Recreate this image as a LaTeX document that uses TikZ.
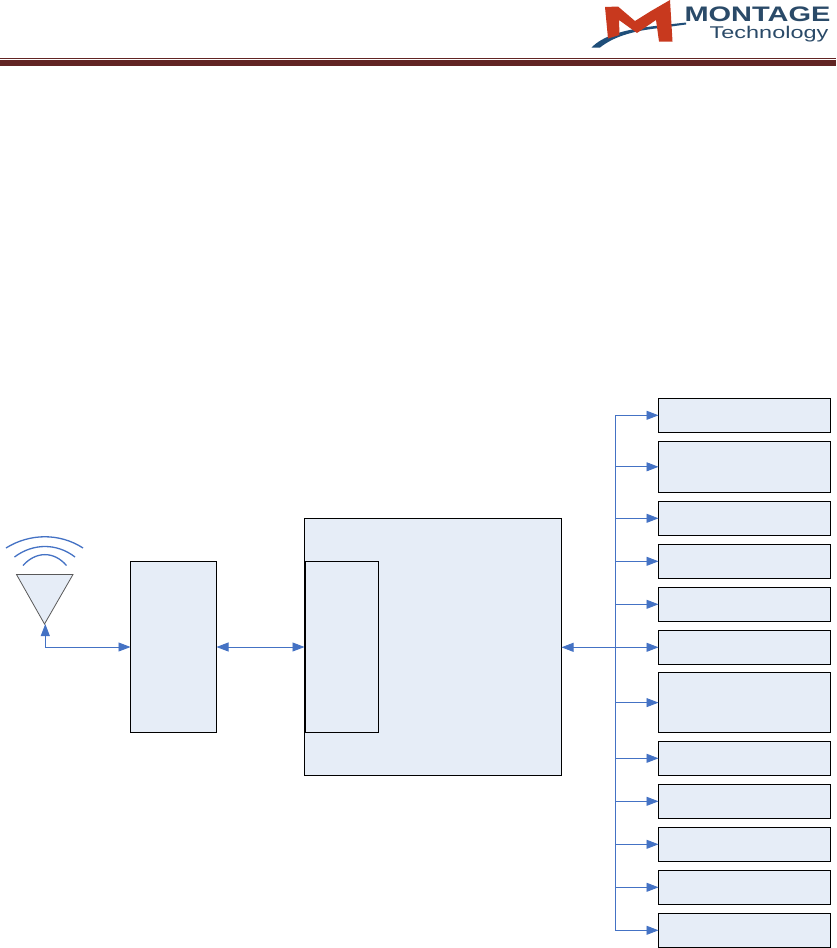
\documentclass[tikz,border=0pt]{standalone}
\usepackage{fontspec}
\setmainfont{Liberation Sans}
\usetikzlibrary{arrows.meta}
\definecolor{boxfill}{HTML}{E6EDF7}
\definecolor{wire}{HTML}{4472C4}
\definecolor{rulec}{HTML}{622423}
\definecolor{logored}{HTML}{C8391E}
\definecolor{logoblue}{HTML}{1F4E79}
\definecolor{logotext}{HTML}{2A4A68}
\tikzset{
  x=1pt,y=-1pt,
  blockbox/.style={draw=black,fill=boxfill,line width=0.9pt,inner sep=0pt,minimum width=0pt},
  wireline/.style={draw=wire,line width=0.9pt},
  oneway/.style={wireline,-{Triangle[length=12pt,width=9pt]}},
  twoway/.style={wireline,{Triangle[length=12pt,width=9pt]}-{Triangle[length=12pt,width=9pt]}},
  wave/.style={draw=wire,line width=1.3pt}
}
\newcommand{\pxbox}[5]{\path[blockbox] (#2,#3) rectangle (#4,#5) node[pos=.5,inner sep=0pt] (#1) {};
  \coordinate (#1-w) at (#2,{(#3+#5)/2});
  \coordinate (#1-e) at (#4,{(#3+#5)/2});}
\begin{document}
\begin{tikzpicture}
\useasboundingbox (0,0) rectangle (836,948);
% header rules
\fill[rulec] (0,57.6) rectangle (836,58.7);
\fill[rulec] (0,60) rectangle (836,66);
% logo
\fill[logoblue] (591.5,47.5) .. controls (602,37) and (620,30) .. (655,26) -- (686,22.5) -- (686,24.5) -- (660,28) .. controls (630,31) and (612,38) .. (600,47.5) -- cycle;
\fill[logored] (605,7) -- (618,6.5) -- (635,21) -- (651,11) -- (670,0) -- (672.5,41.5) -- (659,41.5) -- (656,20) -- (637,33) -- (619,20) -- (619.5,35) -- (608,38.5) -- cycle;
\node[logotext,font=\bfseries\fontsize{21}{21}\selectfont,anchor=center,inner sep=0pt,xscale=1.38,transform shape] (brand) at (757.5,14.5) {MONTAGE};
\node[logotext,font=\fontsize{17}{17}\selectfont,anchor=center,inner sep=0pt,xscale=1.38,transform shape] (brandsub) at (769,34) {Technology};
% antenna
\path[draw=black!65,fill=boxfill,line width=0.8pt] (16.5,574.5) -- (73,574.5) -- (44.5,624) -- cycle;
\coordinate (ant) at (45.3,624);
\draw[wave] (6,548) .. controls (30,533) and (60,533) .. (83,548);
\draw[wave] (14.5,557) .. controls (33,543) and (57,543) .. (75,557);
\draw[wave] (23,565.5) .. controls (36,551) and (54,551) .. (66.5,565.5);
% blocks
\pxbox{rf}{130.5}{561.5}{216.5}{732.5}
\pxbox{soc}{304.5}{518.5}{561.5}{775}
\pxbox{sub}{305}{561.5}{378.5}{732.5}
\pxbox{ra}{658.5}{398.3}{830.5}{432.3}
\pxbox{rb}{658.5}{441.3}{830.5}{492.3}
\pxbox{rc}{658.5}{501.3}{830.5}{535.3}
\pxbox{rd}{658.5}{544.3}{830.5}{578.3}
\pxbox{re}{658.5}{587.3}{830.5}{621.3}
\pxbox{rf2}{658.5}{630.3}{830.5}{664.3}
\pxbox{rg}{658.5}{672.7}{830.5}{732.5}
\pxbox{rh}{658.5}{741.3}{830.5}{775.3}
\pxbox{ri}{658.5}{784.3}{830.5}{818.3}
\pxbox{rj}{658.5}{827.3}{830.5}{861.3}
\pxbox{rk}{658.5}{870.3}{830.5}{904.3}
\pxbox{rl}{658.5}{913.3}{830.5}{947.3}
% connectors
\coordinate (busx) at (615.3,0);
\draw[oneway] (rf-w -| ant) -- (ant);
\draw[oneway] (rf-w -| ant) -- (rf-w);
\draw[twoway] (rf-e) -- (rf-e -| soc-w);
\draw[twoway] (soc-e |- rf2-w) -- (rf2-w);
\draw[wireline] (busx |- ra-w) -- (busx |- rl-w);
\foreach \n in {ra,rb,rc,rd,re,rg,rh,ri,rj,rk,rl}{
  \draw[oneway] (busx |- \n-w) -- (\n-w);
}
\end{tikzpicture}
\end{document}
